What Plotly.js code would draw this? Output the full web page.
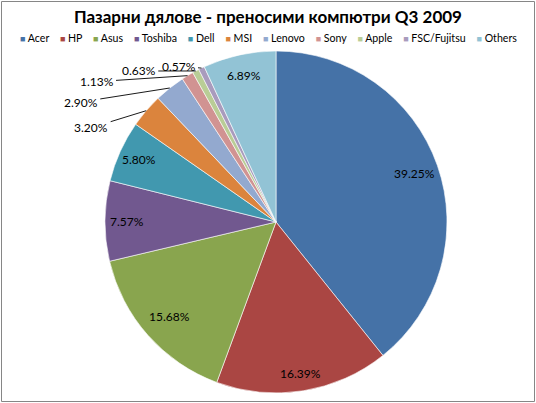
<!DOCTYPE html>
<html>
<head>
<meta charset="utf-8">
<script src="https://cdn.plot.ly/plotly-3.0.1.min.js"></script>
<style>
  body { margin: 0; padding: 0; background: #fff; }
  #chart { width: 536px; height: 403px; }
</style>
</head>
<body>
<div id="chart"></div>
<script>
// market share, Q3 2009 (percent)
const vendors = ['Acer', 'HP', 'Asus', 'Toshiba', 'Dell', 'MSI', 'Lenovo', 'Sony', 'Apple', 'FSC/Fujitsu', 'Others'];
const shares = [39.25, 16.39, 15.68, 7.57, 5.80, 3.20, 2.90, 1.13, 0.63, 0.57, 6.89];
const colors = ['#4572A7', '#AA4643', '#89A54E', '#71588F', '#4198AF', '#DB843D',
                '#93A9CF', '#D19392', '#B9CD96', '#A99BBD', '#92C3D5'];

// layout stuff (px)
const W = 536, H = 403;
const cx = 276, cy = 222, R = 171;
const font = 'Lato, sans-serif';
// offsets of the outside labels from the slice edge (px), null = label inside
const outsideOffset = [null, null, null, null, null,
                       [-55, 17], [-89, 14], [-91, 6], [-57, 0], [-23, -2], null];
// how far out the inside labels sit (fraction of radius)
const insideRadius = [0.86, 0.9, 0.83, 0.87, 0.88, 0, 0, 0, 0, 0, 0.88];

const trace = {
    type: 'pie',
    labels: vendors,
    values: shares,
    sort: false,
    direction: 'clockwise',
    rotation: 0,
    marker: { colors: colors, line: { color: '#ffffff', width: 0.6 } },
    textinfo: 'none',
    hoverinfo: 'label+value',
    domain: { x: [(cx - R) / W, (cx + R) / W], y: [(H - cy - R) / H, (H - cy + R) / H] }
};

// data labels, placed along each slice's middle angle
const total = shares.reduce((a, b) => a + b, 0);
const annotations = [];
let cum = 0;
shares.forEach((v, i) => {
    const mid = (cum + v / 2) / total * 2 * Math.PI;
    cum += v;
    const txt = v.toFixed(2) + '%';
    const sx = Math.sin(mid), sy = Math.cos(mid);
    if (outsideOffset[i]) {
        annotations.push({
            xref: 'paper', yref: 'paper',
            x: (cx + R * sx) / W, y: (H - cy + R * sy) / H,
            ax: outsideOffset[i][0], ay: outsideOffset[i][1],
            text: txt, showarrow: true, arrowhead: 0, arrowwidth: 0.9,
            arrowcolor: '#000000', standoff: 0, startstandoff: 1,
            font: { family: font, size: 12, color: '#000000' }
        });
    } else {
        const rr = insideRadius[i] * R;
        annotations.push({
            xref: 'paper', yref: 'paper',
            x: (cx + rr * sx) / W, y: (H - cy + rr * sy) / H,
            text: txt, showarrow: false,
            xanchor: 'center', yanchor: 'middle',
            font: { family: font, size: 12, color: '#000000' }
        });
    }
});

// legend row built as one line of text
const legendText = vendors.map((name, i) =>
    '<span style="color:' + colors[i] + ';font-size:9px">■</span> ' + name
).join('&nbsp;&nbsp;&nbsp;&nbsp;');
annotations.push({
    xref: 'paper', yref: 'paper', x: 0.5, y: 1 - 38 / H,
    xanchor: 'center', yanchor: 'middle', showarrow: false,
    text: legendText,
    font: { family: font, size: 10.6, color: '#000000' }
});

const layout = {
    width: W,
    height: H,
    margin: { l: 0, r: 0, t: 0, b: 0 },
    paper_bgcolor: '#ffffff',
    showlegend: false,
    title: {
        text: '<b>Пазарни дялове - преносими компютри Q3 2009</b>',
        font: { family: font, size: 17, color: '#000000' },
        x: 0.5, xanchor: 'center',
        y: 1 - 17 / H, yanchor: 'middle'
    },
    annotations: annotations,
    shapes: [{
        type: 'rect', xref: 'paper', yref: 'paper',
        x0: 1.5 / W, x1: 1 - 1.5 / W, y0: 1.5 / H, y1: 1 - 1.5 / H,
        line: { color: '#868686', width: 1 }
    }]
};

Plotly.newPlot('chart', [trace], layout, { displayModeBar: false, staticPlot: true });
</script>
</body>
</html>
